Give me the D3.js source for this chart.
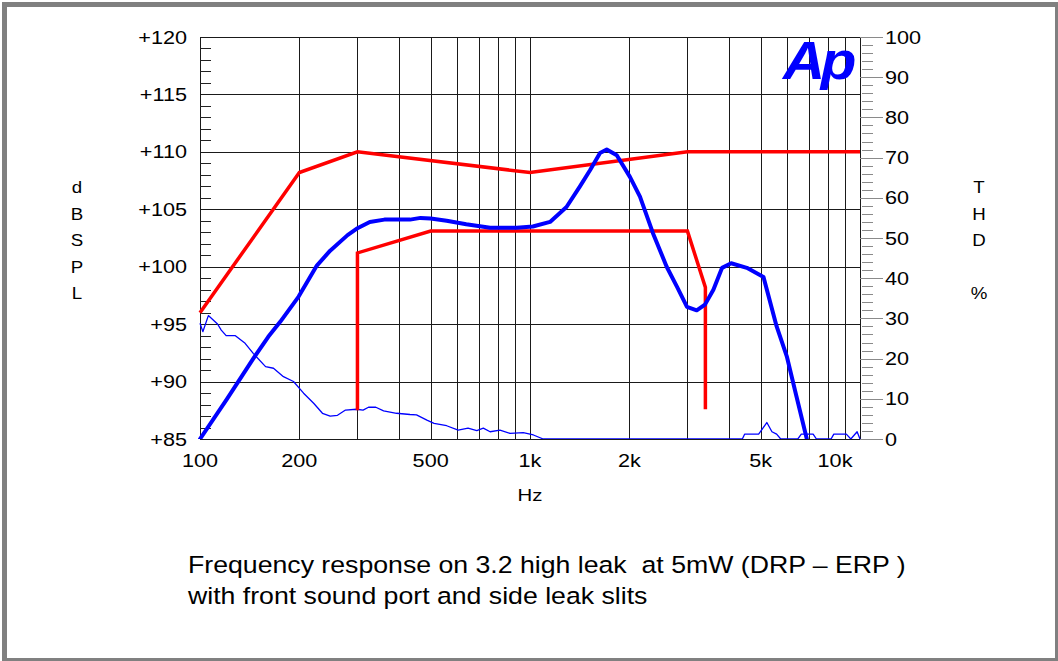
<!DOCTYPE html>
<html><head><meta charset="utf-8">
<script src="https://cdn.jsdelivr.net/npm/d3@7"></script>
<style>html,body{margin:0;padding:0;background:#fff;}svg{display:block;font-family:"Liberation Sans",Arial,Helvetica,sans-serif;}</style>
</head><body>
<script>
// ---- data ----
const freqTicks = [100, 200, 500, 1000, 2000, 5000, 10000];
const freqTickLabels = ["100", "200", "500", "1k", "2k", "5k", "10k"];
const dbTicks = [85, 90, 95, 100, 105, 110, 115, 120];
const dbTickLabels = ["+85", "+90", "+95", "+100", "+105", "+110", "+115", "+120"];
const thdTicks = [0, 10, 20, 30, 40, 50, 60, 70, 80, 90, 100];

// frequency response (dB SPL)
const frFreq = [100, 120.5, 145, 161, 175, 199, 226, 248, 280, 298, 327, 362, 395, 433, 466, 500, 559, 641, 757, 912, 1020, 1150, 1290, 1417, 1520, 1630, 1708, 1832, 2010, 2154, 2360, 2595, 2790, 2990, 3200, 3390, 3595, 3820, 4070, 4540, 5100, 5590, 6000, 6420, 6900];
const frDb   = [85, 88.45, 92.0, 93.9, 95.2, 97.4, 100.1, 101.4, 102.75, 103.3, 103.9, 104.1, 104.1, 104.1, 104.25, 104.2, 104.0, 103.7, 103.4, 103.4, 103.5, 103.9, 105.2, 107.0, 108.4, 109.9, 110.2, 109.7, 107.8, 106.1, 102.9, 100.0, 98.25, 96.5, 96.2, 96.7, 98.0, 99.9, 100.3, 99.9, 99.1, 94.8, 92.2, 88.7, 85];

// THD (%)
const thdFreq = [100, 102, 106, 113, 116, 120, 128, 137, 145, 158, 167, 179, 192, 206, 221, 235, 248, 261, 276, 298, 312, 324, 341, 360, 394, 433, 453, 487, 512, 559, 606, 649, 690, 722, 757, 811, 870, 954, 1024, 1097, 4400, 4470, 4930, 5220, 5410, 5590, 5750, 6480, 6640, 7210, 7380, 8170, 8330, 9090, 9380, 9800, 10000];
const thdPct  = [28.8, 26.7, 30.7, 28.6, 27.1, 25.7, 25.7, 23.8, 21.3, 18.0, 17.6, 15.5, 14.3, 11.4, 8.9, 6.4, 5.7, 5.9, 7.2, 7.4, 7.2, 7.9, 7.9, 7.0, 6.4, 6.1, 6.0, 4.7, 3.9, 3.3, 2.2, 2.7, 2.1, 2.7, 1.8, 2.2, 1.4, 1.6, 1.0, 0, 0, 1.2, 1.2, 4.1, 1.8, 1.2, 0, 0, 1.2, 1.2, 0, 0, 1.2, 1.2, 0, 1.8, 0];

// limit lines (dB SPL)
const upperFreq = [100, 200, 300, 1000, 3000, 10000];
const upperDb   = [96, 108.2, 110, 108.2, 110, 110];
const lowerFreq = [300, 300, 500, 3000, 3400, 3400];
const lowerDb   = [87.5, 101.2, 103.1, 103.1, 98.2, 87.6];

const captionLines = ["Frequency response on 3.2 high leak  at 5mW (DRP \u2013 ERP )", "with front sound port and side leak slits"];

// ---- drawing ----
const W = 1058, H = 661;
const svg = d3.select("body").append("svg").attr("width", W).attr("height", H);
svg.append("rect").attr("width", W).attr("height", H).attr("fill", "#fff");
// frame
const frame = svg.append("g").attr("fill", "#808080");
frame.append("rect").attr("x", 2).attr("y", 2).attr("width", 1056).attr("height", 5);
frame.append("rect").attr("x", 2).attr("y", 2).attr("width", 5).attr("height", 659);
frame.append("rect").attr("x", 1055).attr("y", 2).attr("width", 3).attr("height", 659);
frame.append("rect").attr("x", 2).attr("y", 658).attr("width", 1056).attr("height", 3);

const L = 200, R = 860, T = 37, B = 439;
const x = d3.scaleLog().domain([100, 10000]).range([L, R]);
const y = d3.scaleLinear().domain([85, 120]).range([B, T]);
const y2 = d3.scaleLinear().domain([0, 100]).range([B, T]);

const font = '"Liberation Sans",Arial,Helvetica,sans-serif';
const SX = 1.17; // horizontal stretch of reference text

// grid
const grid = svg.append("g").attr("stroke", "#1a1a1a").attr("stroke-width", 1).attr("shape-rendering", "crispEdges");
const vlines = [];
[100, 1000].forEach(dec => { for (let k = 1; k <= 10; k++) vlines.push(dec * k); });
grid.selectAll("line.v").data(Array.from(new Set(vlines))).enter().append("line")
  .attr("x1", d => Math.round(x(d)) + 0.5).attr("x2", d => Math.round(x(d)) + 0.5)
  .attr("y1", T).attr("y2", B);
grid.selectAll("line.h").data(dbTicks).enter().append("line")
  .attr("x1", L).attr("x2", R)
  .attr("y1", d => Math.round(y(d)) + 0.5).attr("y2", d => Math.round(y(d)) + 0.5);

// left minor ticks (inside) every 1 dB
const leftMinor = d3.range(85, 121, 1).filter(v => v % 5 !== 0);
svg.append("g").attr("stroke", "#222").attr("shape-rendering", "crispEdges")
  .selectAll("line").data(leftMinor).enter().append("line")
  .attr("x1", L).attr("x2", L + 11)
  .attr("y1", d => Math.round(y(d)) + 0.5).attr("y2", d => Math.round(y(d)) + 0.5);

// right axis ticks
const rightMinor = d3.range(0, 101, 2).filter(v => v % 10 !== 0);
svg.append("g").attr("stroke", "#8a8a8a").attr("shape-rendering", "crispEdges")
  .selectAll("line").data(rightMinor).enter().append("line")
  .attr("x1", R + 2).attr("x2", R + 13)
  .attr("y1", d => Math.round(y2(d)) + 0.5).attr("y2", d => Math.round(y2(d)) + 0.5);
svg.append("g").attr("stroke", "#8a8a8a").attr("shape-rendering", "crispEdges")
  .selectAll("line").data(thdTicks).enter().append("line")
  .attr("x1", R).attr("x2", R + 23)
  .attr("y1", d => Math.round(y2(d)) + 0.5).attr("y2", d => Math.round(y2(d)) + 0.5);

// helper for stretched text
function stretched(g, px, py, sx, size, anchor, txt) {
  g.append("text")
    .attr("transform", `translate(${px},${py}) scale(${sx},1)`)
    .attr("text-anchor", anchor).attr("font-size", size).attr("font-family", font).attr("fill", "#000")
    .attr("xml:space", "preserve").style("white-space", "pre")
    .text(txt);
}

// tick labels
const tl = svg.append("g");
dbTicks.forEach((d, i) => stretched(tl, L - 13, y(d) + 6.5, SX, 18.5, "end", dbTickLabels[i]));
thdTicks.forEach(d => stretched(tl, R + 25, y2(d) + 6.5, SX, 18.5, "start", String(d)));
freqTicks.forEach((d, i) => stretched(tl, x(d) + (d === 10000 ? -25 : 0), 467, SX, 18.5, "middle", freqTickLabels[i]));

// axis titles
stretched(tl, 530, 501, 1.2, 17, "middle", "Hz");
const leftTitle = ["d", "B", "S", "P", "L"];
leftTitle.forEach((d, i) => stretched(tl, 77, 193 + i * 26.5, 1.1, 17, "middle", d));
const rightTitle = ["T", "H", "D", "", "%"];
rightTitle.forEach((d, i) => stretched(tl, 979, 193 + i * 26.5, 1.1, 17, "middle", d));

// clip
svg.append("clipPath").attr("id", "plot").append("rect")
  .attr("x", L - 3).attr("y", T - 3).attr("width", R - L + 6).attr("height", B - T + 3);

const line = d3.line();
const plot = svg.append("g").attr("clip-path", "url(#plot)");

// THD thin line
plot.append("path")
  .attr("d", line(thdFreq.map((f, i) => [x(f), y2(thdPct[i])])))
  .attr("fill", "none").attr("stroke", "#0000ff").attr("stroke-width", 1.3).attr("stroke-linejoin", "round");

// limit lines
plot.append("path")
  .attr("d", line(upperFreq.map((f, i) => [x(f), y(upperDb[i])])))
  .attr("fill", "none").attr("stroke", "#ff0000").attr("stroke-width", 3.5).attr("stroke-linejoin", "miter");
plot.append("path")
  .attr("d", line(lowerFreq.map((f, i) => [x(f), y(lowerDb[i])])))
  .attr("fill", "none").attr("stroke", "#ff0000").attr("stroke-width", 3.5).attr("stroke-linejoin", "miter");

// frequency response
plot.append("path")
  .attr("d", line(frFreq.map((f, i) => [x(f), y(frDb[i])])))
  .attr("fill", "none").attr("stroke", "#0000ff").attr("stroke-width", 4).attr("stroke-linejoin", "round").attr("stroke-linecap", "round");

// Ap logo
svg.append("text").attr("transform", "translate(783,79) scale(1.08,1)").attr("font-size", 54).attr("font-weight", "bold")
  .attr("font-style", "italic").attr("font-family", font).attr("fill", "#0000ff").attr("letter-spacing", -4).text("Ap");

// caption
captionLines.forEach((d, i) => stretched(svg, 188, 573 + i * 31, 1.135, 23.5, "start", d));
</script>
</body></html>
